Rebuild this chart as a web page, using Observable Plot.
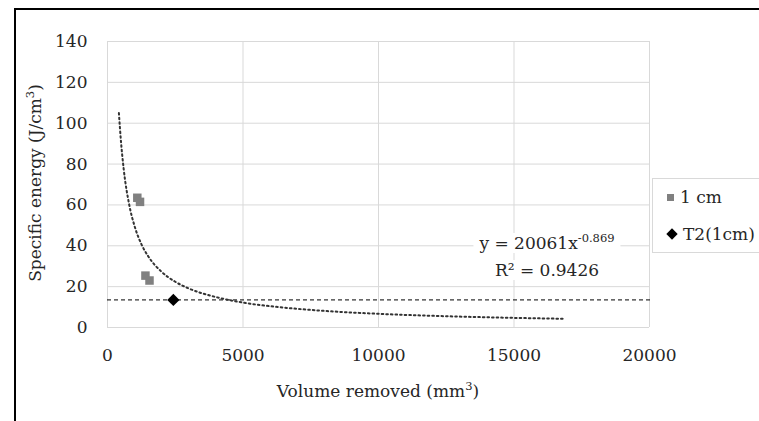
<!DOCTYPE html>
<html><head><meta charset="utf-8">
<script src="https://cdn.jsdelivr.net/npm/d3@7"></script>
<script src="https://cdn.jsdelivr.net/npm/@observablehq/plot@0.6"></script>
<style>
body{margin:0;background:#fff;}
#wrap{position:relative;width:759px;height:421px;overflow:hidden;font-family:"DejaVu Serif",serif;color:#262626;}
#wrap svg{position:absolute;left:0;top:0;}
.frame{position:absolute;left:14px;top:8px;width:800px;height:500px;border-top:2px solid #000;border-left:2px solid #000;}
.ylab{position:absolute;left:35px;top:183px;transform:translate(-50%,-50%) rotate(-90deg);white-space:nowrap;font-size:17px;}
.xlab{position:absolute;left:378px;top:391px;transform:translate(-50%,-50%);white-space:nowrap;font-size:17px;}
.eq{position:absolute;left:547px;transform:translate(-50%,-50%);white-space:nowrap;font-size:17px;background:#fff;padding:0 6px;line-height:20px;}
.eq sup{font-size:11.5px;vertical-align:7px;line-height:0;}
.legend{position:absolute;left:652px;top:178px;width:130px;height:73px;border:1px solid #d9d9d9;background:#fff;font-size:17px;}
.li{position:absolute;left:14px;white-space:nowrap;display:flex;align-items:center;transform:translateY(-50%);}
.sw{display:inline-block;margin-right:6px;}
</style></head><body><div id="wrap"></div>
<script>
const series1Name = "1 cm";
const series1X = [1100, 1200, 1400, 1550];
const series1Y = [63.5, 61.5, 25.4, 23.0];
const series2Name = "T2(1cm)";
const series2X = [2430];
const series2Y = [13.5];
const refLineY = [13.5];
const refLineX = [0, 20100];
const trendX = [420, 500, 600, 800, 1000, 1250, 1500, 2000, 2500, 3000, 4000, 5000, 6500, 8000, 10000, 12500, 15000, 16800];
const trendY = [105, 90.6, 77.3, 60.2, 49.6, 40.8, 34.9, 27.2, 22.4, 19.1, 14.9, 12.2, 9.75, 8.14, 6.70, 5.52, 4.71, 4.27];
const xTicks = [0, 5000, 10000, 15000, 20000];
const yTicks = [0, 20, 40, 60, 80, 100, 120, 140];
const xTitle = "Volume removed (mm³)";
const yTitleMain = "Specific energy (J/cm";
const eqLine1 = ["y = 20061x", "-0.869"];
const eqLine2 = "R² = 0.9426";

const s1 = series1X.map((x, i) => ({x, y: series1Y[i]}));
const s2 = series2X.map((x, i) => ({x, y: series2Y[i]}));
const trend = trendX.map((x, i) => ({x, y: trendY[i]}));

const wrap = document.getElementById("wrap");
const chart = Plot.plot({
  width: 759, height: 421,
  marginLeft: 107, marginRight: 110, marginTop: 41, marginBottom: 94,
  style: {fontFamily: '"DejaVu Serif", serif', fontSize: "17px", color: "#262626", background: "transparent", overflow: "visible"},
  x: {domain: [0, 20000]},
  y: {domain: [0, 140]},
  marks: [
    Plot.gridX(xTicks, {stroke: "#d9d9d9", strokeOpacity: 1}),
    Plot.gridY(yTicks, {stroke: "#d9d9d9", strokeOpacity: 1}),
    Plot.axisX(xTicks, {tickSize: 0, tickPadding: 21, tickFormat: d => String(d), label: null, fontSize: 17}),
    Plot.axisY(yTicks, {tickSize: 0, tickPadding: 20, tickFormat: d => String(d), label: null, fontSize: 17}),
    Plot.ruleY(refLineY, {y: d => d, x1: refLineX[0], x2: refLineX[1], stroke: "#000", strokeWidth: 1, strokeDasharray: "4,3", clip: false}),
    Plot.line(trend, {x: "x", y: "y", stroke: "#333", strokeWidth: 2, strokeDasharray: "1.6,3", curve: "monotone-x"}),
    Plot.dot(s1, {x: "x", y: "y", symbol: "square", r: 4.8, fill: "#808080", stroke: "none"}),
    Plot.dot(s2, {x: "x", y: "y", symbol: "square", r: 4.9, rotate: 45, fill: "#000", stroke: "none"})
  ]
});
wrap.appendChild(chart);

function add(cls, html, style) {
  const d = document.createElement("div");
  d.className = cls; d.innerHTML = html;
  if (style) d.setAttribute("style", style);
  wrap.appendChild(d); return d;
}
add("frame", "");
add("ylab", yTitleMain + "<sup style='font-size:11.5px;vertical-align:7px;line-height:0'>3</sup>)");
add("xlab", xTitle.replace("³", "<sup style='font-size:11.5px;vertical-align:7px;line-height:0'>3</sup>"));
add("eq", eqLine1[0] + "<sup>" + eqLine1[1] + "</sup>", "top:243px");
add("eq", eqLine2, "top:270px");
const lg = add("legend", "");
lg.innerHTML =
  `<div class="li" style="top:18px"><span class="sw" style="width:7px;height:7px;background:#808080"></span>${series1Name}</div>` +
  `<div class="li" style="top:55px"><span class="sw" style="width:8px;height:8px;background:#000;transform:rotate(45deg);margin-left:1px;margin-right:7px"></span>${series2Name}</div>`;
</script>
</body></html>
